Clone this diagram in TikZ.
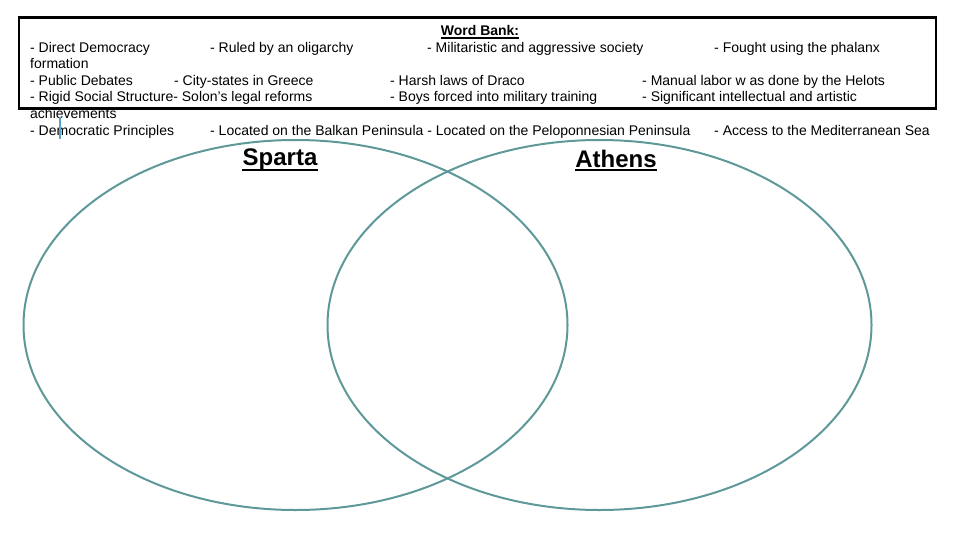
\documentclass[tikz,border=0pt]{standalone}
\usepackage{fontspec}
\setmainfont{Liberation Sans}
\definecolor{venn}{RGB}{94,152,152}
\definecolor{cursorblue}{RGB}{90,160,205}
\begin{document}
\begin{tikzpicture}[x=1pt,y=-1pt,
  word/.style={anchor=base west,inner sep=0pt,font=\fontsize{14}{16}\selectfont},
  title/.style={anchor=base,inner sep=0pt,font=\fontsize{14}{16}\selectfont\bfseries},
  circlabel/.style={anchor=base,inner sep=0pt,font=\fontsize{24}{28}\selectfont\bfseries},
  vennline/.style={draw=venn,line width=2pt},
  boxline/.style={draw=black,line width=2.5pt}]
\useasboundingbox (0,0) rectangle (960,540);
% Venn circles
\draw[vennline] (295.5,325) ellipse [x radius=272, y radius=185];
\draw[vennline] (599.5,325) ellipse [x radius=272, y radius=185];
% word bank texts
\node[title] (wb) at (480,35.5) {Word Bank:};
\draw[line width=1.3pt] ([yshift=-2.5pt]wb.base west) -- ([yshift=-2.5pt]wb.base east);
\node[word] (t1) at (30,52.5) {- Direct Democracy};
\node[word] (t2) at (210,52.5) {- Ruled by an oligarchy};
\node[word] (t3) at (427,52.5) {- Militaristic and aggressive society};
\node[word] (t4) at (714,52.5) {- Fought using the phalanx};
\node[word] (t5) at (30,69) {formation};
\node[word] (t6) at (30,85.5) {- Public Debates};
\node[word] (t7) at (174,85.5) {- City-states in Greece};
\node[word] (t8) at (390,85.5) {- Harsh laws of Draco};
\node[word] (t9) at (642,85.5) {- Manual labor w as done by the Helots};
\node[word] (t10) at (30,102) {- Rigid Social Structure- Solon's legal reforms};
\node[word] (t11) at (390,102) {- Boys forced into military training};
\node[word] (t12) at (642,102) {- Significant intellectual and artistic};
\node[word] (t13) at (30,118.5) {achievements};
\node[word] (t14) at (30,135.5) {- Democratic Principles};
\node[word] (t15) at (210,135.5) {- Located on the Balkan Peninsula - Located on the Peloponnesian Peninsula};
\node[word] (t16) at (714,135.5) {- Access to the Mediterranean Sea};
% box
\draw[boxline] (19,17.5) rectangle (936,108.5);
% cursor
\draw[draw=cursorblue,line width=2pt] (60,117) -- (60,139);
% circle labels
\node[circlabel] (sparta) at (280,165.5) {Sparta};
\draw[line width=2pt] ([yshift=-4.5pt]sparta.base west) -- ([yshift=-4.5pt]sparta.base east);
\node[circlabel] (athens) at (616,167.5) {Athens};
\draw[line width=2pt] ([yshift=-3pt]athens.base west) -- ([yshift=-3pt]athens.base east);
\end{tikzpicture}
\end{document}
